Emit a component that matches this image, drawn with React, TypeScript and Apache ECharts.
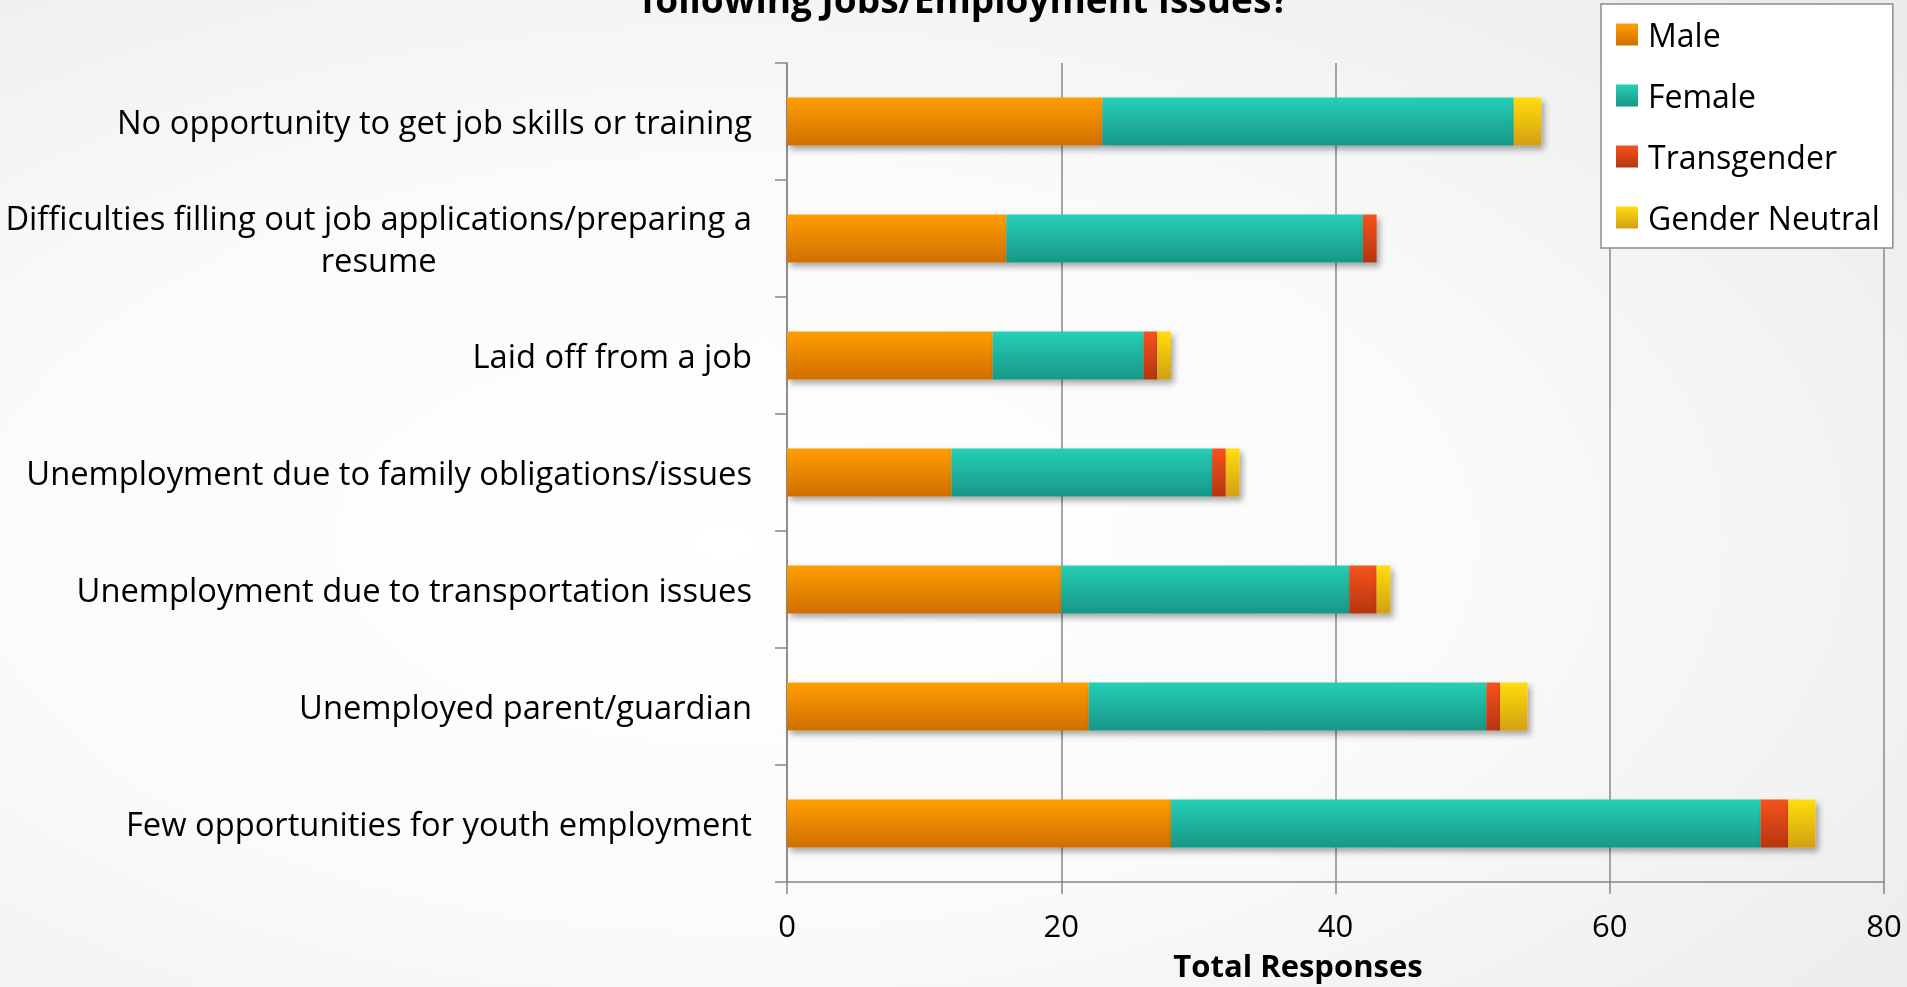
import React, { useEffect, useRef } from "react";
import * as echarts from "echarts";

const categories = [
  "No opportunity to get job skills or training",
  "Difficulties filling out job applications/preparing a\nresume",
  "Laid off from a job",
  "Unemployment due to family obligations/issues",
  "Unemployment due to transportation issues",
  "Unemployed parent/guardian",
  "Few opportunities for youth employment",
];
const male = [23, 16, 15, 12, 20, 22, 28];
const female = [30, 26, 11, 19, 21, 29, 43];
const transgender = [0, 1, 1, 1, 2, 1, 2];
const genderNeutral = [2, 0, 1, 1, 1, 2, 2];
const seriesNames = ["Male", "Female", "Transgender", "Gender Neutral"];
const xTicks = { min: 0, max: 80, interval: 20 };
const titleText = "following Jobs/Employment Issues?";
const xAxisTitle = "Total Responses";

const FONT = "'Open Sans', 'DejaVu Sans', sans-serif";

function grad(top: string, bottom: string) {
  return new echarts.graphic.LinearGradient(0, 0, 0, 1, [
    { offset: 0, color: top },
    { offset: 1, color: bottom },
  ]);
}

export default function App() {
  const ref = useRef<HTMLDivElement>(null);
  useEffect(() => {
    if (!ref.current) return;
    const chart = echarts.init(ref.current, null, { renderer: "svg" });
    const colors = [
      grad("#FF9E00", "#D06F00"),
      grad("#26CFB6", "#189787"),
      grad("#F7531C", "#B5350F"),
      grad("#FFDD10", "#D39F12"),
    ];
    const datas = [male, female, transgender, genderNeutral];
    const shadow = {
      shadowColor: "rgba(0,0,0,0.35)",
      shadowBlur: 6,
      shadowOffsetX: 3,
      shadowOffsetY: 4,
    };
    chart.setOption({
      animation: false,
      backgroundColor: {
        type: "radial",
        x: 0.38,
        y: 0.55,
        r: 0.8,
        colorStops: [
          { offset: 0, color: "#ffffff" },
          { offset: 0.5, color: "#fafafa" },
          { offset: 1, color: "#ebebeb" },
        ],
      },
      graphic: [
        {
          type: "text",
          x: 965,
          y: -20,
          style: {
            text: titleText,
            font: `bold 37px ${FONT}`,
            fill: "#000",
            align: "center",
            verticalAlign: "top",
          },
        },
        {
          type: "text",
          x: 1298,
          y: 965,
          style: {
            text: xAxisTitle,
            font: `bold 31px ${FONT}`,
            fill: "#000",
            align: "center",
            verticalAlign: "middle",
          },
        },
      ],
      legend: {
        orient: "vertical",
        left: 1601,
        top: 4,
        data: seriesNames,
        backgroundColor: "#ffffff",
        borderColor: "#8c8c8c",
        borderWidth: 1.5,
        borderRadius: 0,
        padding: [11, 13, 11, 15],
        itemGap: 22,
        itemWidth: 22,
        itemHeight: 22,
        icon: "rect",
        textStyle: {
          fontFamily: FONT,
          fontSize: 32,
          color: "#000",
          lineHeight: 39,
          padding: [0, 0, 0, 5],
        },
      },
      grid: {
        left: 787,
        right: 23,
        top: 63,
        bottom: 105,
        containLabel: false,
        outerBoundsMode: "none",
      },
      xAxis: {
        type: "value",
        min: xTicks.min,
        max: xTicks.max,
        interval: xTicks.interval,
        axisLine: { show: true, lineStyle: { color: "#868686", width: 1.5 } },
        axisTick: { show: true, length: 12, lineStyle: { color: "#868686", width: 1.5 } },
        splitLine: { show: true, lineStyle: { color: "#8a8a8a", width: 1.5 } },
        axisLabel: { fontFamily: FONT, fontSize: 31, color: "#000", margin: 27 },
      },
      yAxis: {
        type: "category",
        inverse: true,
        data: categories,
        axisLine: { show: true, lineStyle: { color: "#868686", width: 1.5 } },
        axisTick: { show: true, length: 12, lineStyle: { color: "#868686", width: 1.5 } },
        splitLine: { show: false },
        axisLabel: {
          margin: 35,
          formatter: (v: string) =>
            v
              .split("\n")
              .map((l) => `{c|${l}}`)
              .join("\n"),
          rich: {
            c: {
              fontFamily: FONT,
              fontSize: 32.7,
              color: "#000",
              align: "center",
              lineHeight: 42,
            },
          },
        },
      },
      series: seriesNames.map((name, i) => ({
        name,
        type: "bar",
        stack: "total",
        data: datas[i],
        barCategoryGap: "59%",
        itemStyle: { color: colors[i], ...shadow },
        emphasis: { disabled: true },
      })),
    });
    return () => chart.dispose();
  }, []);
  return (
    <div
      ref={ref}
      style={{ position: "fixed", left: 0, top: 0, width: 1907, height: 987 }}
    />
  );
}
